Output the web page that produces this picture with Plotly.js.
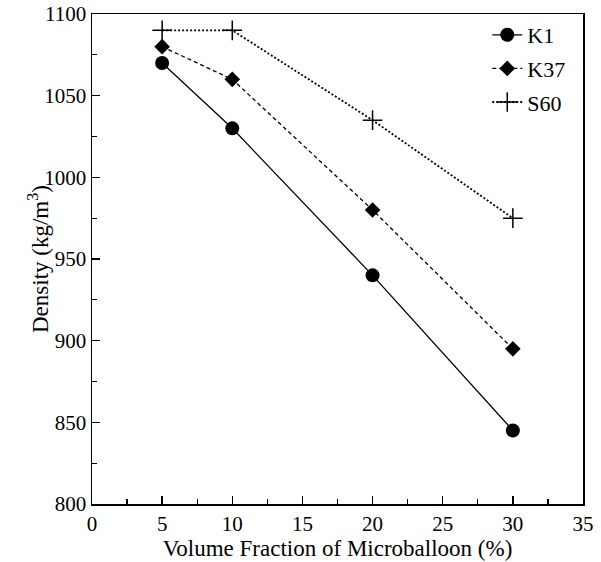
<!DOCTYPE html>
<html>
<head>
<meta charset="utf-8">
<script src="https://cdn.plot.ly/plotly-3.0.1.min.js"></script>
<style>html,body{margin:0;padding:0;background:#fff;}#chart{width:601px;height:562px;}</style>
</head>
<body>
<div id="chart"></div>
<script>
var volumeFraction = [5, 10, 20, 30];
var densityK1 = [1070, 1030, 940, 845];
var densityK37 = [1080, 1060, 980, 895];
var densityS60 = [1090, 1090, 1035, 975];
var seriesNames = ['K1', 'K37', 'S60'];
var xTitle = 'Volume Fraction of Microballoon (%)';
var yTitle = 'Density (kg/m<sup>3</sup>)';

var traces = [
  {x: volumeFraction, y: densityK1, name: seriesNames[0], mode: 'lines+markers', legendgroup: 'a',
   line: {color: '#000', width: 1.3, dash: 'solid'},
   marker: {symbol: 'circle', size: 14, color: '#000'}},
  {x: volumeFraction, y: densityK37, name: seriesNames[1], mode: 'lines+markers', legendgroup: 'b',
   line: {color: '#000', width: 1.3, dash: '4px,3px'},
   marker: {symbol: 'diamond', size: 12, color: '#000'}},
  {x: volumeFraction, y: densityS60, name: seriesNames[2], mode: 'lines+markers', legendgroup: 'c',
   line: {color: '#000', width: 1.8, dash: '2px,2px'},
   marker: {symbol: 'cross-thin', size: 14, color: '#000', line: {color: '#000', width: 1.5}}}
];

var axisCommon = {
  showline: true, mirror: true, linecolor: '#000', linewidth: 1.5,
  ticks: 'inside', ticklen: 8, tickwidth: 1.3, tickcolor: '#000',
  showgrid: false, zeroline: false,
  tickfont: {family: 'Liberation Serif', size: 21, color: '#000'}
};

var layout = {
  width: 601, height: 562,
  margin: {l: 92, r: 18, t: 14, b: 58},
  paper_bgcolor: '#fff', plot_bgcolor: '#fff',
  showlegend: true,
  legend: {x: 0.805, y: 1, xanchor: 'left', yanchor: 'top', bgcolor: 'rgba(0,0,0,0)',
           tracegroupgap: 2, font: {family: 'Liberation Serif', size: 22, color: '#000'}},
  xaxis: Object.assign({}, axisCommon, {
    range: [0, 35], dtick: 5, tick0: 0,
    minor: {dtick: 2.5, ticks: 'inside', ticklen: 5, tickwidth: 1.3, tickcolor: '#000'},
    title: {text: xTitle, standoff: 4,
            font: {family: 'Liberation Serif', size: 23, color: '#000'}}
  }),
  yaxis: Object.assign({}, axisCommon, {
    range: [800, 1100], dtick: 50, tick0: 800,
    minor: {dtick: 25, ticks: 'inside', ticklen: 5, tickwidth: 1.3, tickcolor: '#000'}
  }),
  annotations: [{
    text: yTitle, xref: 'paper', yref: 'paper', x: -0.11, y: 0.5,
    xanchor: 'center', yanchor: 'middle', textangle: -90, showarrow: false,
    font: {family: 'Liberation Serif', size: 23, color: '#000'}
  }]
};

Plotly.newPlot('chart', traces, layout, {displayModeBar: false, staticPlot: true});
</script>
</body>
</html>
